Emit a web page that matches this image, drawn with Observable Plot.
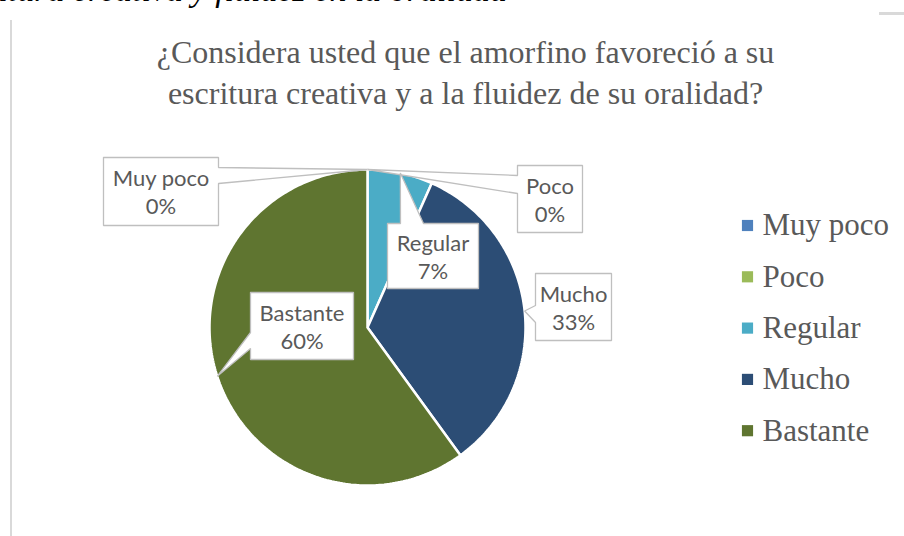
<!DOCTYPE html>
<html>
<head>
<meta charset="utf-8">
<script src="https://cdn.jsdelivr.net/npm/d3@7"></script>
<script src="https://cdn.jsdelivr.net/npm/@observablehq/plot@0.6"></script>
<style>
  html, body { margin: 0; padding: 0; background: #ffffff; width: 904px; height: 536px; overflow: hidden; }
  #wrap { position: relative; width: 904px; height: 536px; }
  #chart { position: absolute; left: 0; top: 0; }
  #cut { position: absolute; right: 397px; top: -27px; font: italic 34px "Liberation Serif", "Times New Roman", serif; line-height: 34px; color: #000; white-space: nowrap; }
  #frameL { position: absolute; left: 10px; top: 20px; width: 2px; height: 516px; background: #D9D9D9; }
  #frameT { position: absolute; left: 879px; top: 12px; width: 25px; height: 3px; background: #D9D9D9; }
</style>
</head>
<body>
<div id="wrap">
  <div id="cut">en la escritura creativa y fluidez en la oralidad</div>
  <div id="frameL"></div>
  <div id="frameT"></div>
  <div id="chart"></div>
</div>
<script>
// ---------- data ----------
const categories = ["Muy poco", "Poco", "Regular", "Mucho", "Bastante"];
const counts = [0, 0, 2, 10, 18];
const colors = ["#4F81BD", "#9BBB59", "#4BACC6", "#2C4D75", "#5F7530"];
const titleLines = [
  "¿Considera usted que el amorfino favoreció a su",
  "escritura creativa y a la fluidez de su oralidad?"
];

// ---------- layout (pixels) ----------
const W = 904, H = 536, CX = 367, CY = 327, R = 158;
const ux = px => (px - CX) / R;
const uy = py => (CY - py) / R;
// callout boxes: [x0, y0, x1, y1], side of pointer, pointer base interval
const calloutLayout = [
  { box: [103, 157, 218, 225], side: "right", base: [167, 183] },
  { box: [517, 165, 582, 232], side: "left",  base: [175, 193] },
  { box: [387, 223, 478, 288], side: "top",   base: [400, 423] },
  { box: [535, 273, 611, 340], side: "left",  base: [305, 322] },
  { box: [250, 292, 353, 359], side: "left",  base: [332, 348] }
];
const legendX = 747, legendTextX = 762, legendY0 = 225, legendStep = 51.3;

// ---------- derived ----------
const total = d3.sum(counts);
const arcs = d3.pie().sort(null).value(d => d)(counts);

const slicePts = [];
arcs.forEach((a, i) => {
  const span = a.endAngle - a.startAngle;
  if (span <= 0) return;
  const cat = categories[i];
  const n = Math.max(2, Math.ceil(span / (Math.PI / 180)));
  slicePts.push({ cat, x: 0, y: 0 });
  for (let k = 0; k <= n; k++) {
    const t = a.startAngle + span * k / n;
    slicePts.push({ cat, x: Math.sin(t), y: Math.cos(t) });
  }
  slicePts.push({ cat, x: 0, y: 0 });
});

const calloutPts = [];
const calloutText = [];
arcs.forEach((a, i) => {
  const L = calloutLayout[i];
  const m = (a.startAngle + a.endAngle) / 2;
  const tip = { x: Math.sin(m), y: Math.cos(m) };
  const [x0, y0, x1, y1] = L.box;
  const [b0, b1] = L.base;
  const pts = [[x0, y0]];
  if (L.side === "top") pts.push([b0, y0], "tip", [b1, y0]);
  pts.push([x1, y0]);
  if (L.side === "right") pts.push([x1, b0], "tip", [x1, b1]);
  pts.push([x1, y1]);
  if (L.side === "bottom") pts.push([b1, y1], "tip", [b0, y1]);
  pts.push([x0, y1]);
  if (L.side === "left") pts.push([x0, b1], "tip", [x0, b0]);
  pts.push([x0, y0]);
  pts.forEach(p => {
    if (p === "tip") calloutPts.push({ id: i, x: tip.x, y: tip.y });
    else calloutPts.push({ id: i, x: ux(p[0]), y: uy(p[1]) });
  });
  const cxp = (x0 + x1) / 2, cyp = (y0 + y1) / 2;
  calloutText.push({ x: ux(cxp), y: uy(cyp - 12.5), t: categories[i] });
  calloutText.push({ x: ux(cxp), y: uy(cyp + 15.5), t: Math.round(counts[i] / total * 100) + "%" });
});

const legendRows = categories.map((c, i) => ({
  cat: c,
  xs: ux(legendX), xt: ux(legendTextX), y: uy(legendY0 + legendStep * i)
}));
const titleRows = titleLines.map((t, i) => ({ t, x: ux(465), y: uy(52 + 41 * i) }));

const chart = Plot.plot({
  width: W, height: H, margin: 0,
  x: { domain: [ux(0), ux(W)], axis: null },
  y: { domain: [uy(H), uy(0)], axis: null },
  color: { domain: categories, range: colors },
  style: { background: "transparent", overflow: "visible" },
  marks: [
    Plot.line(slicePts, { x: "x", y: "y", z: "cat", fill: "cat", stroke: "white", strokeWidth: 2.5, strokeLinejoin: "miter" }),
    Plot.line(calloutPts, { x: "x", y: "y", z: "id", fill: "white", stroke: "#BFBFBF", strokeWidth: 1.3, strokeLinejoin: "miter" }),
    Plot.text(calloutText, { x: "x", y: "y", text: "t", fontSize: 22, fontFamily: "Lato, 'Open Sans', sans-serif", fill: "#595959" }),
    Plot.dot(legendRows, { x: "xs", y: "y", fill: "cat", symbol: "square", r: 6.3, stroke: null }),
    Plot.text(legendRows, { x: "xt", y: "y", text: "cat", textAnchor: "start", fontSize: 31, fontFamily: "'Liberation Serif', 'Times New Roman', serif", fill: "#595959" }),
    Plot.text(titleRows, { x: "x", y: "y", text: "t", fontSize: 32, fontFamily: "'Liberation Serif', 'Times New Roman', serif", fill: "#595959" })
  ]
});
document.getElementById("chart").appendChild(chart);
</script>
</body>
</html>
